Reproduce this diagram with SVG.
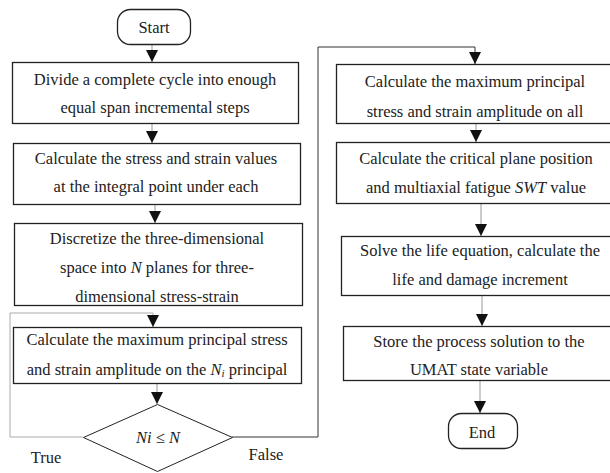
<svg xmlns="http://www.w3.org/2000/svg" width="610" height="473" viewBox="0 0 610 473">
<defs>
<marker id="ah" viewBox="0 0 12 13" refX="12" refY="6" markerWidth="12" markerHeight="13" markerUnits="userSpaceOnUse" orient="auto">
<path d="M0,0 L12,6 L0,12 Z" fill="#111"/>
</marker>
<style>
.box{fill:#fff;stroke:#222;stroke-width:1.3}
.con{fill:none;stroke:#999;stroke-width:1;marker-end:url(#ah)}
.t{font-family:"Liberation Serif","Times New Roman",serif;font-size:16.5px;fill:#222;text-anchor:middle}
.i{font-style:italic}
</style>
</defs>
<rect width="610" height="473" fill="#fff"/>
<g id="connectors">
<line class="con" x1="152" y1="45" x2="152" y2="62"/>
<line class="con" x1="152" y1="123" x2="152" y2="143"/>
<line class="con" x1="155" y1="204" x2="155" y2="223"/>
<polyline class="con" points="83,437 10,437 10,313 153,313 153,327" style="stroke:#aaa"/>
<line class="con" x1="157" y1="383" x2="157" y2="404"/>
<polyline class="con" points="232,437 318,437 318,47 475,47 475,64" style="stroke:#333"/>
<line class="con" x1="476" y1="123" x2="476" y2="142"/>
<line class="con" x1="481" y1="203" x2="481" y2="236"/>
<line class="con" x1="482" y1="295" x2="482" y2="326"/>
<line class="con" x1="480" y1="380" x2="480" y2="413"/>
</g>
<g id="start"><rect class="box" x="117.5" y="9.5" width="73" height="35" rx="13"/><text class="t" x="154" y="33">Start</text></g>
<g id="n1"><rect class="box" x="12.5" y="62.5" width="286" height="61"/>
<text class="t" x="155" y="85">Divide a complete cycle into enough</text>
<text class="t" x="155" y="113">equal span incremental steps</text></g>
<g id="n2"><rect class="box" x="13.5" y="143.5" width="287" height="61"/>
<text class="t" x="156" y="164">Calculate the stress and strain values</text>
<text class="t" x="156" y="192">at the integral point under each</text></g>
<g id="n3"><rect class="box" x="14.5" y="223.5" width="288" height="82"/>
<text class="t" x="157" y="244">Discretize the three-dimensional</text>
<text class="t" x="157" y="273">space into <tspan class="i">N</tspan> planes for three-</text>
<text class="t" x="157" y="302">dimensional stress-strain</text></g>
<g id="n4"><rect class="box" x="13.5" y="327.5" width="288" height="56"/>
<text class="t" x="157" y="345">Calculate the maximum principal stress</text>
<text class="t" x="157" y="375">and strain amplitude on the <tspan class="i">N</tspan><tspan class="i" font-size="11" dy="2">i</tspan><tspan dy="-2"> principal</tspan></text></g>
<g id="d1"><polygon class="box" points="157.5,404.5 232.5,437.5 157.5,471.5 83.5,437.5" style="stroke-width:1"/>
<text class="t i" x="158" y="443">Ni ≤ N</text></g>
<text class="t" x="46" y="463">True</text>
<text class="t" x="266" y="460">False</text>
<g id="n5"><rect class="box" x="336.5" y="64.5" width="290" height="59"/>
<text class="t" x="475" y="87">Calculate the maximum principal</text>
<text class="t" x="475" y="117">stress and strain amplitude on all</text></g>
<g id="n6"><rect class="box" x="336.5" y="142.5" width="290" height="61"/>
<text class="t" x="476" y="164">Calculate the critical plane position</text>
<text class="t" x="476" y="193">and multiaxial fatigue <tspan class="i">SWT</tspan> value</text></g>
<g id="n7"><rect class="box" x="341.5" y="236.5" width="290" height="59"/>
<text class="t" x="480" y="256">Solve the life equation, calculate the</text>
<text class="t" x="480" y="285">life and damage increment</text></g>
<g id="n8"><rect class="box" x="343.5" y="326.5" width="290" height="54"/>
<text class="t" x="479" y="347">Store the process solution to the</text>
<text class="t" x="479" y="375">UMAT state variable</text></g>
<g id="end"><rect class="box" x="448.5" y="413.5" width="69" height="35" rx="13"/><text class="t" x="482" y="438">End</text></g>
</svg>
